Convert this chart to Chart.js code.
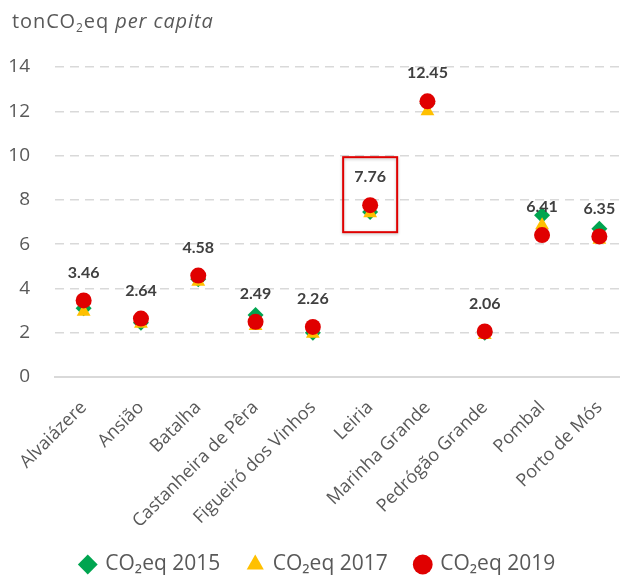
<!DOCTYPE html>
<html>
<head>
<meta charset="utf-8">
<script src="https://cdn.jsdelivr.net/npm/chart.js@4.4.1/dist/chart.umd.min.js"></script>
<style>
  html, body { margin: 0; padding: 0; background: #ffffff; overflow: hidden; }
  #wrap { position: relative; width: 620px; height: 581px; overflow: hidden; }
  #unit { position: absolute; left: 12px; top: 7px; font-family: "Open Sans", sans-serif;
          font-size: 20px; letter-spacing: 0.9px; color: #595959; white-space: nowrap; }
  #unit sub { font-size: 12px; vertical-align: -4px; line-height: 0; }
  canvas { position: absolute; left: 0; top: 0; width: 628px; height: 585px; }
</style>
</head>
<body>
<div id="wrap">
  <!-- the plot runs slightly past the right and bottom edges of the frame -->
  <canvas id="c" width="628" height="585" style="width:628px;height:585px"></canvas>
  <div id="unit">tonCO<sub>2</sub>eq <i>per capita</i></div>
</div>
<script>
const municipalities = ["Alvaiázere", "Ansião", "Batalha", "Castanheira de Pêra", "Figueiró dos Vinhos",
  "Leiria", "Marinha Grande", "Pedrógão Grande", "Pombal", "Porto de Mós"];
const co2eq2015 = [3.10, 2.45, 4.42, 2.80, 2.00, 7.45, 12.35, 2.00, 7.30, 6.70];
const co2eq2017 = [2.95, 2.40, 4.30, 2.30, 1.95, 7.40, 12.00, 1.90, 6.85, 6.20];
const co2eq2019 = [3.46, 2.64, 4.58, 2.49, 2.26, 7.76, 12.45, 2.06, 6.41, 6.35];
const yTicks = [0, 2, 4, 6, 8, 10, 12, 14];
const highlighted = "Leiria";

const FONT = '"Open Sans", sans-serif';
const LABEL_FONT = 'Lato, "Open Sans", sans-serif';
const PLOT_RIGHT = 628;

// Let the plot area run a little past the right edge, as the gridlines do
const plotWidthPlugin = {
  id: 'plotWidth',
  afterLayout(chart) {
    const x = chart.scales.x;
    x.right = PLOT_RIGHT;
    x.width = PLOT_RIGHT - x.left;
    chart.chartArea.right = PLOT_RIGHT;
    chart.chartArea.width = PLOT_RIGHT - chart.chartArea.left;
    x.configure();
  }
};

// Value labels above the 2019 points, plus a frame around the highlighted municipality
const labelsPlugin = {
  id: 'valueLabels',
  afterDatasetsDraw(chart) {
    const ctx = chart.ctx;
    const meta = chart.getDatasetMeta(2);
    ctx.save();
    ctx.font = 'bold 16px ' + LABEL_FONT;
    ctx.fillStyle = '#404040';
    ctx.textAlign = 'center';
    ctx.textBaseline = 'middle';
    meta.data.forEach((pt, i) => {
      ctx.fillText(co2eq2019[i].toFixed(2), pt.x, pt.y - 28);
    });
    const idx = municipalities.indexOf(highlighted);
    const p = meta.data[idx];
    ctx.strokeStyle = '#e00000';
    ctx.lineWidth = 2;
    ctx.shadowColor = 'rgba(0,0,0,0.25)';
    ctx.shadowBlur = 3;
    ctx.shadowOffsetY = 1;
    ctx.strokeRect(p.x - 27, p.y - 48, 54, 75);
    ctx.restore();
  }
};

const subLabel = s => s.replace('CO2', 'CO₂');

new Chart(document.getElementById('c'), {
  type: 'line',
  data: {
    labels: municipalities,
    datasets: [
      { label: subLabel('CO2eq 2015'), data: co2eq2015, order: 3, showLine: false, pointStyle: 'rectRot',
        pointRadius: 8, pointHoverRadius: 8, backgroundColor: '#00a550', borderColor: '#00a550', borderWidth: 0 },
      { label: subLabel('CO2eq 2017'), data: co2eq2017, order: 2, showLine: false, pointStyle: 'triangle',
        pointRadius: 8, pointHoverRadius: 8, backgroundColor: '#ffc000', borderColor: '#ffc000', borderWidth: 0 },
      { label: subLabel('CO2eq 2019'), data: co2eq2019, order: 1, showLine: false, pointStyle: 'circle',
        pointRadius: 8, pointHoverRadius: 8, backgroundColor: '#e00000', borderColor: '#e00000', borderWidth: 0 }
    ]
  },
  options: {
    responsive: false,
    animation: false,
    layout: { padding: { top: 67, right: 0, left: 8, bottom: 0 } },
    clip: false,
    plugins: {
      title: { display: false },
      tooltip: { enabled: false },
      legend: {
        position: 'bottom',
        labels: {
          usePointStyle: true,
          boxWidth: 14, boxHeight: 14,
          font: { family: FONT, size: 21 },
          color: '#595959',
          padding: 28,
          sort: (a, b) => a.datasetIndex - b.datasetIndex
        }
      }
    },
    scales: {
      x: {
        offset: true,
        grid: { display: false },
        border: { display: true, color: '#d9d9d9', width: 2 },
        afterFit(scale) { scale.paddingLeft = 0; scale.paddingRight = 0; scale.height = 149; },
        ticks: {
          minRotation: 45, maxRotation: 45,
          font: { family: FONT, size: 18 },
          color: '#595959',
          padding: 12
        }
      },
      y: {
        min: 0, max: 14,
        afterBuildTicks(axis) { axis.ticks = yTicks.map(v => ({ value: v })); },
        afterFit(scale) { scale.width = 47; },
        grid: {
          color: ctx => ctx.tick && ctx.tick.value === 0 ? 'rgba(0,0,0,0)' : '#d9d9d9',
          lineWidth: 1.5,
          drawTicks: false
        },
        border: { display: false, dash: [9, 6] },
        ticks: {
          font: { family: FONT, size: 19 },
          color: '#595959',
          padding: 25
        }
      }
    }
  },
  plugins: [plotWidthPlugin, labelsPlugin]
});
</script>
</body>
</html>
